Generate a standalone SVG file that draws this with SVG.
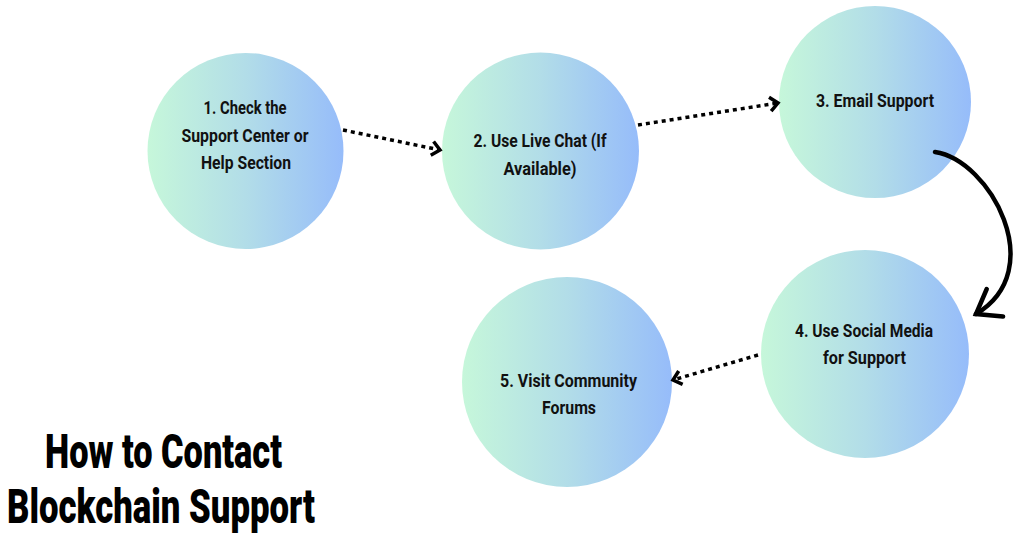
<svg xmlns="http://www.w3.org/2000/svg" width="1024" height="536" viewBox="0 0 1024 536">
<style>
.node{fill:url(#g)}
.t{font-family:Roboto,"Liberation Sans",sans-serif;font-weight:700;font-size:18px;fill:#111;text-anchor:middle}
.title{font-family:Roboto,"Liberation Sans",sans-serif;font-weight:900;font-size:49px;fill:#000;text-anchor:middle}
.dot{fill:none;stroke:#000;stroke-width:3.5;stroke-dasharray:4 4}
.solid{fill:none;stroke:#000;stroke-width:4.5;stroke-linecap:round}
</style>
<defs>
<linearGradient id="g" x1="0" y1="0" x2="1" y2="0">
<stop offset="0" stop-color="#c6f7da"/>
<stop offset="0.5" stop-color="#b2dde8"/>
<stop offset="1" stop-color="#96bcfa"/>
</linearGradient>
<marker id="a" markerUnits="userSpaceOnUse" markerWidth="30" markerHeight="30" refX="0" refY="0" orient="auto" overflow="visible">
<path d="M-8,-7 L0,0 L-8,7" fill="none" stroke="#000" stroke-width="3.5"/>
</marker>
<marker id="b" markerUnits="userSpaceOnUse" markerWidth="60" markerHeight="60" refX="0" refY="0" orient="auto" overflow="visible">
<path d="M-22,-16 L0,0 L-22,16" fill="none" stroke="#000" stroke-width="4.5" stroke-linecap="round" stroke-linejoin="miter"/>
</marker>
</defs>
<rect width="1024" height="536" fill="#fff"/>
<g id="n1"><circle class="node" cx="245.5" cy="151" r="98"/>
<text class="t" x="245" y="113.5" textLength="83" lengthAdjust="spacingAndGlyphs">1. Check the</text>
<text class="t" x="245" y="141.5" textLength="127" lengthAdjust="spacingAndGlyphs">Support Center or</text>
<text class="t" x="246" y="168.5" textLength="90" lengthAdjust="spacingAndGlyphs">Help Section</text></g>
<g id="n2"><circle class="node" cx="540.5" cy="151" r="98.5"/>
<text class="t" x="540" y="146.5" textLength="133" lengthAdjust="spacingAndGlyphs">2. Use Live Chat (If</text>
<text class="t" x="540" y="174.5" textLength="73" lengthAdjust="spacingAndGlyphs">Available)</text></g>
<g id="n3"><circle class="node" cx="875" cy="102" r="96"/>
<text class="t" x="875" y="106.5" textLength="118" lengthAdjust="spacingAndGlyphs">3. Email Support</text></g>
<g id="n4"><circle class="node" cx="865" cy="354" r="104"/>
<text class="t" x="864" y="336.5" textLength="138" lengthAdjust="spacingAndGlyphs">4. Use Social Media</text>
<text class="t" x="864.5" y="363.5" textLength="83" lengthAdjust="spacingAndGlyphs">for Support</text></g>
<g id="n5"><circle class="node" cx="567" cy="382" r="105"/>
<text class="t" x="568.5" y="386.5" textLength="137" lengthAdjust="spacingAndGlyphs">5. Visit Community</text>
<text class="t" x="569" y="413.5" textLength="54" lengthAdjust="spacingAndGlyphs">Forums</text></g>
<g id="connectors">
<path class="dot" d="M343,130 L440,150" marker-end="url(#a)"/>
<path class="dot" d="M638,125 L778,103" marker-end="url(#a)"/>
<path class="solid" d="M935,152 C990,160 1050,270 976,314" marker-end="url(#b)"/>
<path class="dot" d="M758,355 L673,380" marker-end="url(#a)"/>
</g>
<g id="title">
<text class="title" x="163.5" y="468" textLength="237" lengthAdjust="spacingAndGlyphs">How to Contact</text>
<text class="title" x="161" y="523" textLength="308" lengthAdjust="spacingAndGlyphs">Blockchain Support</text>
</g>
</svg>
